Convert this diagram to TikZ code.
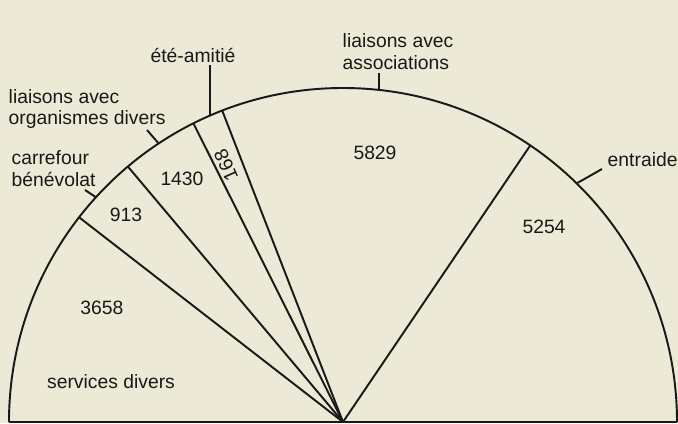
\documentclass[tikz,border=0pt]{standalone}
\usepackage{fontspec}
\setmainfont{Liberation Sans}
\definecolor{paper}{RGB}{236,233,214}
\definecolor{ink}{RGB}{25,25,25}
\begin{document}
\begin{tikzpicture}[x=0.02cm,y=0.02cm,line width=1.1pt,draw=ink,
    every node/.style={text=ink,inner sep=1pt,font=\fontsize{11}{12.5}\selectfont}]
        \fill[paper] (-343,-1) rectangle (335,422);
        \useasboundingbox (-343,-1) rectangle (335,422);

        \coordinate (C) at (0,0);
        \coordinate (A0) at (180:334);
        \coordinate (A1) at (142.2:334);
        \coordinate (A2) at (130.1:334);
        \coordinate (A3) at (116.6:334);
        \coordinate (A4) at (111.2:334);
        \coordinate (A5) at (55.9:334);
        \coordinate (A6) at (0:334);

        \coordinate (L1) at (137.7:334);
        \coordinate (L2) at (123.5:334);
        \coordinate (L3) at (113.4:334);
        \coordinate (L4) at (83.8:334);
        \coordinate (L5) at (45.6:334);

        \draw (A0) arc (180:0:334);
        \draw (A0) -- (A6);

        \draw (C) -- (A1);
        \draw (C) -- (A2);
        \draw (C) -- (A3);
        \draw (C) -- (A4);
        \draw (C) -- (A5);

        \node (v1) at (-241,114) {3658};
        \node (v2) at (-217,207) {913};
        \node (v3) at (-161,243) {1430};
        \node[rotate=114,inner sep=0pt] (v4) at (-117,257) {168};
        \node (v5) at (32,269) {5829};
        \node (v6) at (201,195) {5254};

        \node (serv) at (-232,40) {services divers};
        \node[align=left,anchor=west] (carr) at (-334,253) {carrefour\\bénévolat};
        \node[align=left,anchor=west] (orga) at (-337,313) {liaisons avec\\organismes divers};
        \node (ete) at (-150,367) {été-amitié};
        \node[align=left,anchor=west] (asso) at (-3,370) {liaisons avec\\associations};
        \node[anchor=west] (entr) at (262,262) {entraide};

        \coordinate (E1) at (-258,232);
        \coordinate (E2) at (-196,292);
        \coordinate (E5) at (259,253);

        \draw (L1) -- (E1);
        \draw (L2) -- (E2);
        \draw (L3) -- (L3 |- ete.south);
        \draw (L4) -- (L4 |- asso.south);
        \draw (L5) -- (E5);
    \end{tikzpicture}
\end{document}
